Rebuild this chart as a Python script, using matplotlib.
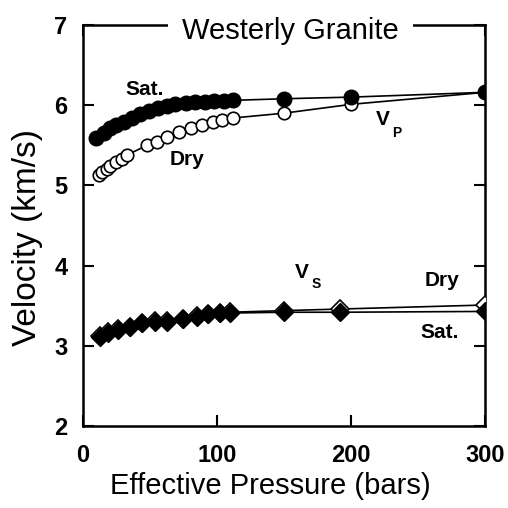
import matplotlib
matplotlib.use("Agg")
import matplotlib.pyplot as plt

plt.rcParams["font.family"] = ["Liberation Sans", "DejaVu Sans"]

# --- data ---
p_vp_sat = [10, 16, 20, 25, 31, 37, 43, 49, 56, 63, 69, 77, 84, 91, 98, 105, 112, 150, 200, 300]
v_vp_sat = [5.59, 5.65, 5.71, 5.75, 5.79, 5.84, 5.89, 5.93, 5.97, 5.99, 6.02, 6.03, 6.04, 6.04,
            6.05, 6.05, 6.06, 6.08, 6.10, 6.16]

p_vp_dry = [12, 14, 18, 20, 25, 29, 33, 48, 55, 63, 72, 81, 89, 97, 104, 112, 150, 200, 300]
v_vp_dry = [5.13, 5.17, 5.21, 5.24, 5.29, 5.33, 5.38, 5.50, 5.54, 5.60, 5.67, 5.72, 5.75, 5.79,
            5.82, 5.84, 5.90, 6.01, 6.16]

p_vs_sat = [13, 19, 26, 35, 44, 54, 63, 75, 85, 93, 102, 110, 150, 192, 300]
v_vs_sat = [3.11, 3.16, 3.20, 3.23, 3.28, 3.30, 3.30, 3.33, 3.36, 3.40, 3.41, 3.41, 3.42, 3.42, 3.43]

p_vs_dry = [13, 19, 26, 35, 44, 54, 63, 75, 85, 93, 102, 110, 150, 192, 300]
v_vs_dry = [3.12, 3.17, 3.21, 3.24, 3.29, 3.31, 3.31, 3.34, 3.37, 3.40, 3.41, 3.42, 3.44, 3.46, 3.51]

x_ticks = [0, 100, 200, 300]
y_ticks = [2, 3, 4, 5, 6, 7]

fig = plt.figure(figsize=(5.08, 5.08), dpi=100)
ax = fig.add_axes([0.163, 0.161, 0.792, 0.79])

ax.plot(p_vs_dry, v_vs_dry, color="black", lw=1.2, marker="D", ms=9,
        mfc="white", mec="black", mew=1.2, zorder=3)
ax.plot(p_vs_sat, v_vs_sat, color="black", lw=1.2, marker="D", ms=9,
        mfc="black", mec="black", zorder=4)
ax.plot(p_vp_dry, v_vp_dry, color="black", lw=1.2, marker="o", ms=9,
        mfc="white", mec="black", mew=1.2, zorder=3)
ax.plot(p_vp_sat, v_vp_sat, color="black", lw=1.2, marker="o", ms=10.5,
        mfc="black", mec="black", zorder=4)

ax.set_xlim(0, 300)
ax.set_ylim(2, 7)
ax.set_xticks(x_ticks)
ax.set_yticks(y_ticks)
ax.tick_params(direction="in", length=8, width=1.5, top=True, right=True,
               labelsize=17, pad=11)
ax.tick_params(axis="x", pad=13)
for lab in ax.get_xticklabels() + ax.get_yticklabels():
    lab.set_fontweight("bold")
for s in ax.spines.values():
    s.set_linewidth(1.8)

ax.set_xlabel("Effective Pressure (bars)", fontsize=21)
ax.set_ylabel("Velocity (km/s)", fontsize=24)
ax.xaxis.set_label_coords(0.465, -0.115)
ax.yaxis.set_label_coords(-0.10, 0.47)

ax.text(155, 6.92, "Westerly Granite", fontsize=21, ha="center", va="center",
        bbox=dict(facecolor="white", edgecolor="none", pad=10), zorder=10, clip_on=False)

lab_kw = dict(fontsize=15, fontweight="bold", ha="center", va="center")
ax.text(46, 6.19, "Sat.", **lab_kw)
ax.text(78, 5.32, "Dry", **lab_kw)
ax.text(224, 5.82, "V", **lab_kw)
ax.text(234, 5.65, "P", fontsize=10, fontweight="bold", ha="center", va="center")
ax.text(163, 3.92, "V", **lab_kw)
ax.text(174, 3.77, "S", fontsize=10, fontweight="bold", ha="center", va="center")
ax.text(268, 3.81, "Dry", **lab_kw)
ax.text(266, 3.17, "Sat.", **lab_kw)

fig.savefig("out.png", dpi=100)
